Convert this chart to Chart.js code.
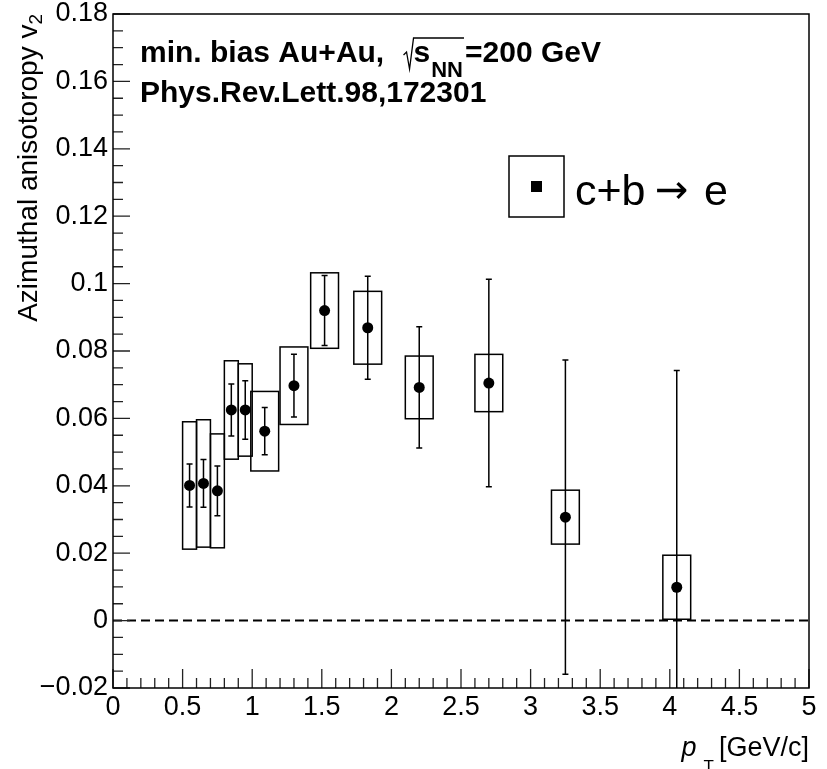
<!DOCTYPE html>
<html>
<head>
<meta charset="utf-8">
<script src="https://cdn.jsdelivr.net/npm/chart.js@4.4.1/dist/chart.umd.min.js"></script>
<style>
  html, body { margin: 0; padding: 0; background: #fff; }
  canvas { display: block; }
</style>
</head>
<body>
<canvas id="v2Chart" width="827" height="769"></canvas>
<script>
// Heavy-flavour electron v2 vs pT, min. bias Au+Au at 200 GeV

const ptValues     = [0.55, 0.65, 0.75, 0.85, 0.95, 1.09, 1.30, 1.52, 1.83, 2.20, 2.70, 3.25, 4.05];
const v2Values     = [0.0401, 0.0407, 0.0385, 0.0625, 0.0625, 0.0562, 0.0697, 0.0920, 0.0869, 0.0692, 0.0705, 0.0307, 0.0099];
const statErrors   = [0.0064, 0.0071, 0.0074, 0.0077, 0.0087, 0.0070, 0.0093, 0.0104, 0.0153, 0.0180, 0.0308, 0.0466, 0.0643];
const sysErrors    = [0.0189, 0.0189, 0.0169, 0.0146, 0.0137, 0.0118, 0.0115, 0.0112, 0.0108, 0.0093, 0.0085, 0.0080, 0.0095];
const sysHalfWidth = [0.05, 0.05, 0.05, 0.05, 0.05, 0.1, 0.1, 0.1, 0.1, 0.1, 0.1, 0.1, 0.1];

const xRange = [0, 5];
const yRange = [-0.02, 0.18];
const xMajorStep = 0.5, xMinorDiv = 5;
const yMajorStep = 0.02, yMinorDiv = 4;

const FONT = "'Liberation Sans', Arial, Helvetica, sans-serif";

function formatTick(value) {
    const s = String(Number(value.toFixed(3)));
    return s.replace('-', '\u2212');
}

// boxes (syst.), error bars (stat.), zero line, frame, ticks and labels
const rootStylePlugin = {
    id: 'rootStyle',
    beforeDatasetsDraw(chart) {
        const { ctx, chartArea: a, scales: { x, y } } = chart;
        ctx.save();
        ctx.beginPath();
        ctx.rect(a.left, a.top, a.right - a.left, a.bottom - a.top);
        ctx.clip();

        ctx.strokeStyle = '#000';
        ctx.lineWidth = 2;
        ctx.setLineDash([9, 5]);
        ctx.beginPath();
        ctx.moveTo(x.getPixelForValue(xRange[0]), y.getPixelForValue(0));
        ctx.lineTo(x.getPixelForValue(xRange[1]), y.getPixelForValue(0));
        ctx.stroke();
        ctx.setLineDash([]);

        ctx.lineWidth = 1.5;
        for (let i = 0; i < ptValues.length; i++) {
            const xl = x.getPixelForValue(ptValues[i] - sysHalfWidth[i]);
            const xr = x.getPixelForValue(ptValues[i] + sysHalfWidth[i]);
            const yt = y.getPixelForValue(v2Values[i] + sysErrors[i]);
            const yb = y.getPixelForValue(v2Values[i] - sysErrors[i]);
            ctx.strokeRect(xl, yt, xr - xl, yb - yt);

            const xc = x.getPixelForValue(ptValues[i]);
            const eTop = y.getPixelForValue(v2Values[i] + statErrors[i]);
            const eBot = y.getPixelForValue(v2Values[i] - statErrors[i]);
            ctx.beginPath();
            ctx.moveTo(xc, eTop); ctx.lineTo(xc, eBot);
            ctx.moveTo(xc - 3, eTop); ctx.lineTo(xc + 3, eTop);
            ctx.moveTo(xc - 3, eBot); ctx.lineTo(xc + 3, eBot);
            ctx.stroke();
        }
        ctx.restore();
    },
    afterDraw(chart) {
        const { ctx, chartArea: a, scales: { x, y } } = chart;
        ctx.save();

        // tick marks pointing into the frame
        ctx.strokeStyle = '#222';
        ctx.lineWidth = 1.3;
        ctx.beginPath();
        const nx = Math.round((xRange[1] - xRange[0]) / xMajorStep) * xMinorDiv;
        for (let k = 0; k <= nx; k++) {
            const px = x.getPixelForValue(xRange[0] + k * xMajorStep / xMinorDiv);
            const len = k % xMinorDiv === 0 ? 19 : 10;
            ctx.moveTo(px, a.bottom);
            ctx.lineTo(px, a.bottom - len);
        }
        const ny = Math.round((yRange[1] - yRange[0]) / yMajorStep) * yMinorDiv;
        for (let k = 0; k <= ny; k++) {
            const py = y.getPixelForValue(yRange[0] + k * yMajorStep / yMinorDiv);
            const len = k % yMinorDiv === 0 ? 17 : 10;
            ctx.moveTo(a.left, py);
            ctx.lineTo(a.left + len, py);
        }
        ctx.stroke();

        // frame
        ctx.strokeStyle = '#000';
        ctx.lineWidth = 1.5;
        ctx.strokeRect(a.left, a.top, a.right - a.left, a.bottom - a.top);

        ctx.fillStyle = '#000';
        ctx.textAlign = 'left';
        ctx.textBaseline = 'alphabetic';

        // header lines
        const big = `bold 30px ${FONT}`;
        ctx.font = big;
        const line1 = 'min. bias Au+Au, ';
        ctx.fillText(line1, 140, 62);
        const rx = 140 + ctx.measureText(line1).width + 11;
        const sx = rx + 10;
        ctx.fillText('s', sx, 62);
        const sw = ctx.measureText('s').width;
        ctx.font = `bold 22px ${FONT}`;
        ctx.fillText('NN', sx + sw + 1, 77);
        const nnEnd = sx + sw + 1 + ctx.measureText('NN').width;
        ctx.lineWidth = 1.3;
        ctx.beginPath();
        ctx.moveTo(rx, 55);
        ctx.lineTo(rx + 3, 52);
        ctx.lineTo(rx + 6, 69);
        ctx.lineTo(rx + 10, 38);
        ctx.lineTo(nnEnd + 1, 38);
        ctx.stroke();
        ctx.font = big;
        ctx.fillText('=200 GeV', nnEnd + 2, 62);
        ctx.fillText('Phys.Rev.Lett.98,172301', 140, 102);

        // legend
        ctx.lineWidth = 1.5;
        ctx.strokeRect(509, 156, 55, 61);
        ctx.fillRect(531, 181, 11, 11);
        ctx.font = `43px ${FONT}`;
        ctx.fillText('c+b', 575, 205);
        ctx.fillText('e', 704, 205);
        ctx.font = `40px 'DejaVu Sans', ${FONT}`;
        ctx.fillText('\u2192', 655, 203);

        // x axis title
        ctx.font = `27px ${FONT}`;
        const unit = '[GeV/c]';
        const unitX = a.right - ctx.measureText(unit).width;
        ctx.fillText(unit, unitX, 756);
        ctx.font = `17px ${FONT}`;
        const tX = unitX - 5 - ctx.measureText('T').width;
        ctx.fillText('T', tX, 772);
        ctx.font = `italic 27px ${FONT}`;
        ctx.fillText('p', tX - 7 - ctx.measureText('p').width, 756);

        // y axis title
        ctx.translate(37, 0);
        ctx.rotate(-Math.PI / 2);
        ctx.font = `19px ${FONT}`;
        const subW = ctx.measureText('2').width;
        ctx.fillText('2', -a.top - subW, 5);
        ctx.font = `28px ${FONT}`;
        const title = 'Azimuthal anisotoropy v';
        ctx.fillText(title, -a.top - subW - ctx.measureText(title).width, 0);

        ctx.restore();
    }
};

const points = ptValues.map((pt, i) => ({ x: pt, y: v2Values[i] }));

new Chart(document.getElementById('v2Chart'), {
    type: 'scatter',
    data: {
        datasets: [{
            label: 'c+b \u2192 e',
            data: points,
            pointRadius: 5.5,
            pointHoverRadius: 5.5,
            pointBackgroundColor: '#000',
            pointBorderWidth: 0
        }]
    },
    options: {
        responsive: false,
        animation: false,
        devicePixelRatio: 1,
        layout: { padding: { left: 0, top: 14, right: 18, bottom: 0 } },
        plugins: {
            legend: { display: false },
            tooltip: { enabled: false }
        },
        scales: {
            x: {
                type: 'linear',
                min: xRange[0],
                max: xRange[1],
                grid: { display: false, drawTicks: false, tickLength: 0 },
                border: { display: false },
                ticks: {
                    stepSize: xMajorStep,
                    padding: 6,
                    color: '#000',
                    font: { family: FONT, size: 27, lineHeight: 1 },
                    callback: formatTick
                },
                afterFit(scale) {
                    scale.height = 81;
                    scale.paddingLeft = 0;
                    scale.paddingRight = 0;
                }
            },
            y: {
                type: 'linear',
                min: yRange[0],
                max: yRange[1],
                grid: { display: false, drawTicks: false, tickLength: 0 },
                border: { display: false },
                ticks: {
                    stepSize: yMajorStep,
                    padding: 5,
                    color: '#000',
                    font: { family: FONT, size: 27, lineHeight: 1 },
                    callback: formatTick
                },
                afterFit(scale) {
                    scale.width = 113;
                    scale.paddingTop = 0;
                    scale.paddingBottom = 0;
                }
            }
        }
    },
    plugins: [rootStylePlugin]
});
</script>
</body>
</html>
